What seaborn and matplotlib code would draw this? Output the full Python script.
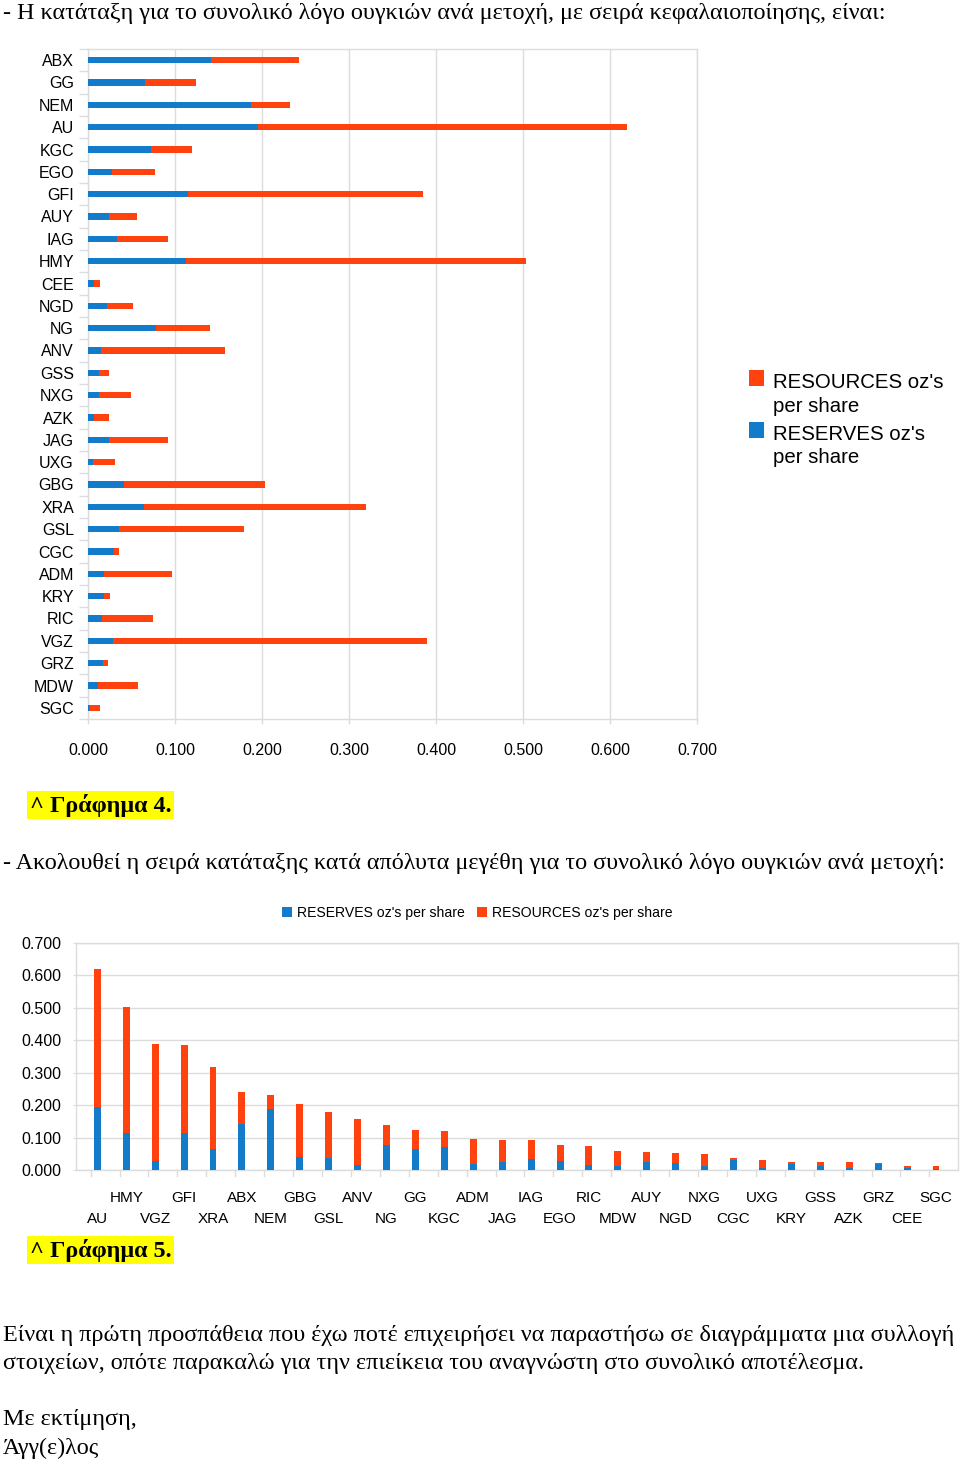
import numpy as np
import pandas as pd
import matplotlib
matplotlib.use("Agg")
import matplotlib.pyplot as plt
import matplotlib.transforms as mtransforms
from matplotlib.patches import Rectangle
import seaborn as sns

# ---------------- data ----------------
tickers = ["ABX", "GG", "NEM", "AU", "KGC", "EGO", "GFI", "AUY", "IAG", "HMY",
           "CEE", "NGD", "NG", "ANV", "GSS", "NXG", "AZK", "JAG", "UXG", "GBG",
           "XRA", "GSL", "CGC", "ADM", "KRY", "RIC", "VGZ", "GRZ", "MDW", "SGC"]
reserves = [0.141, 0.066, 0.187, 0.195, 0.072, 0.028, 0.115, 0.024, 0.033, 0.113,
            0.0065, 0.0215, 0.078, 0.015, 0.0127, 0.0127, 0.0065, 0.024, 0.006, 0.041,
            0.064, 0.036, 0.030, 0.018, 0.018, 0.0165, 0.029, 0.0177, 0.012, 0.0023]
resources = [0.101, 0.058, 0.045, 0.424, 0.047, 0.049, 0.270, 0.032, 0.059, 0.391,
             0.0073, 0.030, 0.062, 0.143, 0.012, 0.037, 0.0173, 0.068, 0.0247, 0.163,
             0.255, 0.143, 0.006, 0.079, 0.0077, 0.058, 0.361, 0.0049, 0.0455, 0.0115]
rank_order = ["AU", "HMY", "VGZ", "GFI", "XRA", "ABX", "NEM", "GBG", "GSL", "ANV",
              "NG", "GG", "KGC", "ADM", "JAG", "IAG", "EGO", "RIC", "MDW", "AUY",
              "NGD", "NXG", "CGC", "UXG", "KRY", "GSS", "AZK", "GRZ", "CEE", "SGC"]
value_ticks = [0.0, 0.1, 0.2, 0.3, 0.4, 0.5, 0.6, 0.7]
value_tick_labels = ["0.000", "0.100", "0.200", "0.300", "0.400", "0.500", "0.600", "0.700"]

label_reserves = "RESERVES oz's per share"
label_resources = "RESOURCES oz's per share"

text_line1 = "- Η κατάταξη για το συνολικό λόγο ουγκιών ανά μετοχή, με σειρά κεφαλαιοποίησης, είναι:"
caption4 = "^ Γράφημα 4."
text_line2 = "- Ακολουθεί η σειρά κατάταξης κατά απόλυτα μεγέθη για το συνολικό λόγο ουγκιών ανά μετοχή:"
caption5 = "^ Γράφημα 5."
para1 = "Είναι η πρώτη προσπάθεια που έχω ποτέ επιχειρήσει να παραστήσω σε διαγράμματα μια συλλογή"
para2 = "στοιχείων, οπότε παρακαλώ για την επιείκεια του αναγνώστη στο συνολικό αποτέλεσμα."
sign1 = "Με εκτίμηση,"
sign2 = "Άγγ(ε)λος"

df = pd.DataFrame({"ticker": tickers, "reserves": reserves, "resources": resources})
df["total"] = df["reserves"] + df["resources"]
df2 = df.set_index("ticker").loc[rank_order].reset_index()

# ---------------- style ----------------
BLUE = "#127BCA"
ORANGE = "#FF420E"
GRID = "#DCDCDC"
SANS = ["Liberation Sans", "DejaVu Sans"]
SERIF = ["Liberation Serif", "DejaVu Serif"]
plt.rcParams["font.family"] = SANS

W, H = 960, 1461
PX = 72 / 100.0  # points per pixel
fig = plt.figure(figsize=(W / 100, H / 100), dpi=100)


def rect(l, t, r, b):
    return [l / W, 1 - b / H, (r - l) / W, (b - t) / H]


def fx(x):
    return x / W


def fy(y):
    return 1 - y / H


# ---------------- top chart (horizontal stacked) ----------------
ax1 = fig.add_axes(rect(88, 49, 697, 719))
sns.barplot(data=df, x="total", y="ticker", order=tickers, orient="h",
            color=ORANGE, saturation=1, width=0.27, errorbar=None,
            linewidth=0, ax=ax1, zorder=3)
sns.barplot(data=df, x="reserves", y="ticker", order=tickers, orient="h",
            color=BLUE, saturation=1, width=0.27, errorbar=None,
            linewidth=0, ax=ax1, zorder=4)
ax1.set_xlim(0, 0.7)
ax1.set_ylim(len(tickers) - 0.5, -0.5)
ax1.set_xlabel("")
ax1.set_ylabel("")
ax1.set_xticks(value_ticks)
ax1.set_xticklabels(value_tick_labels, fontsize=11.5)
ax1.set_yticks(range(len(tickers)))
ax1.set_yticklabels(tickers, fontsize=11.5)
ax1.set_yticks(np.arange(len(tickers) + 1) - 0.5, minor=True)
ax1.tick_params(axis="y", which="major", length=0, pad=14 * PX)
ax1.tick_params(axis="y", which="minor", length=9 * PX, color=GRID, width=1)
ax1.tick_params(axis="x", which="major", length=5 * PX, color=GRID, width=1, pad=19 * PX)
ax1.xaxis.grid(True, color=GRID, linewidth=1, zorder=0)
ax1.set_axisbelow(True)
for s in ax1.spines.values():
    s.set_color(GRID)
    s.set_linewidth(1)

# top legend (manual)
fig.add_artist(Rectangle((fx(749), fy(386)), 15 / W, 16 / H, transform=fig.transFigure,
                         facecolor=ORANGE, edgecolor="none"))
fig.add_artist(Rectangle((fx(749), fy(438)), 15 / W, 16 / H, transform=fig.transFigure,
                         facecolor=BLUE, edgecolor="none"))
res_words = label_resources.rsplit(" ", 2)
rsv_words = label_reserves.rsplit(" ", 2)
LFS = 14.7
fig.text(fx(773), fy(382), res_words[0], fontsize=LFS, va="center", ha="left")
fig.text(fx(773), fy(406), " ".join(res_words[1:]), fontsize=LFS, va="center", ha="left")
fig.text(fx(773), fy(434), rsv_words[0], fontsize=LFS, va="center", ha="left")
fig.text(fx(773), fy(458), " ".join(rsv_words[1:]), fontsize=LFS, va="center", ha="left")

# ---------------- bottom chart (vertical stacked, ranked) ----------------
ax2 = fig.add_axes(rect(75.7, 943, 958, 1170))
sns.barplot(data=df2, x="ticker", y="total", order=rank_order,
            color=ORANGE, saturation=1, width=0.24, errorbar=None,
            linewidth=0, ax=ax2, zorder=3)
sns.barplot(data=df2, x="ticker", y="reserves", order=rank_order,
            color=BLUE, saturation=1, width=0.24, errorbar=None,
            linewidth=0, ax=ax2, zorder=4)
ax2.set_xlim(-0.747, 29.76)
ax2.set_ylim(0, 0.7)
ax2.set_xlabel("")
ax2.set_ylabel("")
ax2.set_yticks(value_ticks)
ax2.set_yticklabels(value_tick_labels, fontsize=11.5)
ax2.tick_params(axis="y", length=3 * PX, color=GRID, pad=11 * PX)
even = list(range(0, len(rank_order), 2))
odd = list(range(1, len(rank_order), 2))
ax2.set_xticks(even)
ax2.set_xticklabels([rank_order[i] for i in even], fontsize=11)
ax2.set_xticks(odd, minor=True)
ax2.set_xticklabels([rank_order[i] for i in odd], minor=True, fontsize=11)
ax2.tick_params(axis="x", which="major", length=0, pad=42 * PX)
ax2.tick_params(axis="x", which="minor", length=0, pad=21 * PX)
ax2.yaxis.grid(True, color=GRID, linewidth=1, zorder=0)
ax2.set_axisbelow(True)
for s in ax2.spines.values():
    s.set_color(GRID)
    s.set_linewidth(1)
trans = mtransforms.blended_transform_factory(ax2.transData, ax2.transAxes)
for k in range(len(rank_order)):
    ax2.plot([k - 0.23, k - 0.23], [0, -6 / 227], transform=trans, color=GRID,
             linewidth=1, clip_on=False)

# bottom legend (manual)
fig.add_artist(Rectangle((fx(282), fy(917)), 10 / W, 10 / H, transform=fig.transFigure,
                         facecolor=BLUE, edgecolor="none"))
fig.add_artist(Rectangle((fx(477), fy(917)), 10 / W, 10 / H, transform=fig.transFigure,
                         facecolor=ORANGE, edgecolor="none"))
fig.text(fx(297), fy(913), label_reserves, fontsize=10.1, va="center", ha="left")
fig.text(fx(492), fy(913), label_resources, fontsize=10.1, va="center", ha="left")

# ---------------- Greek document text ----------------
renderer = fig.canvas.get_renderer()
probe = fig.text(0, 0, text_line2, family=SERIF, fontsize=16)
w = probe.get_window_extent(renderer).width
fs = 16 * 945 / w
probe.remove()

for s, x, y in [(text_line1, 3, 14), (text_line2, 3, 863), (para1, 3, 1336),
                (para2, 3, 1364), (sign1, 3, 1420), (sign2, 3, 1448)]:
    fig.text(fx(x), fy(y), s, family=SERIF, fontsize=fs, va="center", ha="left")

for s, y in [(caption4, 805), (caption5, 1250)]:
    fig.text(fx(30), fy(y), s, family=SERIF, fontsize=fs, fontweight="bold",
             va="center", ha="left",
             bbox=dict(boxstyle="square,pad=0.12", facecolor="#FFFF00", edgecolor="none"))

fig.savefig("out.png", dpi=100)
